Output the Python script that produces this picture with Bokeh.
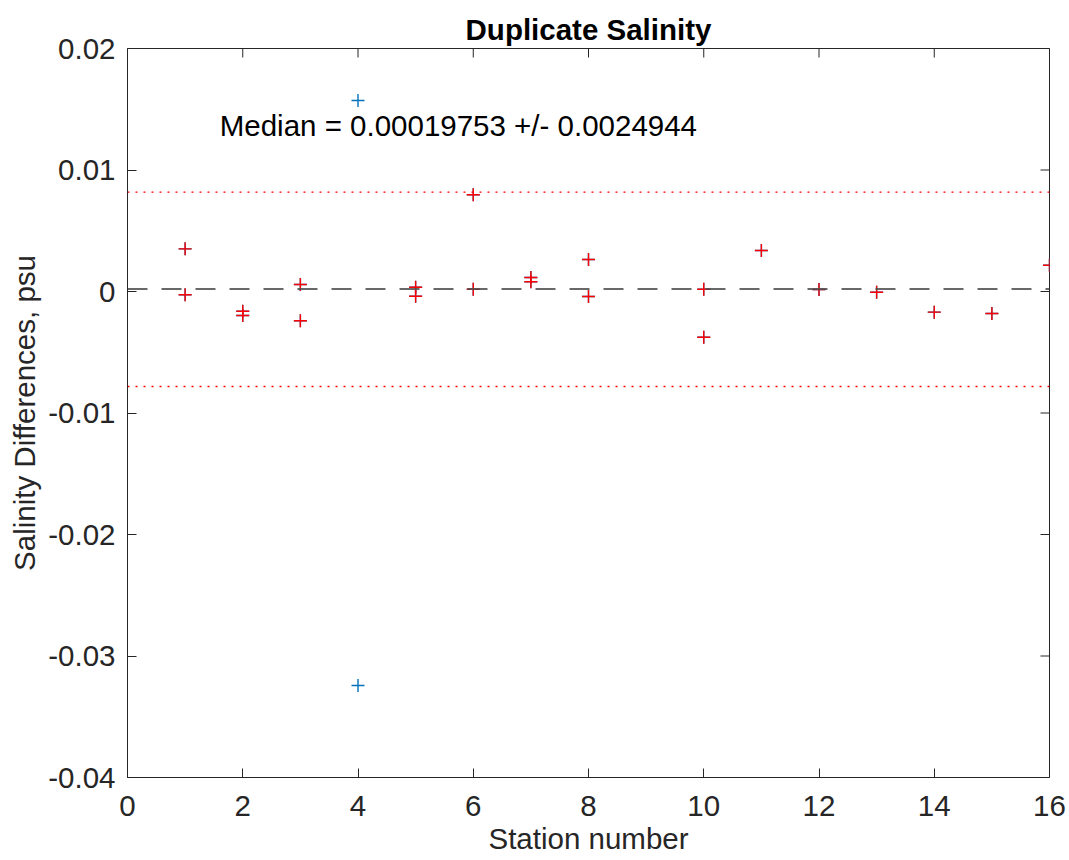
import math
from bokeh.plotting import figure
from bokeh.models import Range1d, FixedTicker, Span, CustomJSTickFormatter, ColumnDataSource
from bokeh.embed import file_html
from bokeh.resources import INLINE
from bokeh.core.properties import value

# ---- data ----
stations = [1, 1, 2, 2, 3, 3, 4, 4, 5, 5, 6, 6, 7, 7, 8, 8, 10, 10, 11, 12, 13, 14, 15, 16]
sal_diff = [0.00351, -0.00027, -0.00162, -0.00198, 0.00058, -0.00241, 0.01572, -0.03243,
            0.00035, -0.00039, 0.00796, 0.00019, 0.00115, 0.00080, 0.00263, -0.00041,
            0.00019, -0.00376, 0.00337, 0.00016, -0.00006, -0.00170, -0.00181, 0.00216]
median_val = 0.00019753
upper_limit = 0.00818
lower_limit = -0.00782
annot_x = [1.6]
annot_y = [0.0137]
annot_text = ["Median = 0.00019753 +/- 0.0024944"]
x_ticks = [0, 2, 4, 6, 8, 10, 12, 14, 16]
y_ticks = [-0.04, -0.03, -0.02, -0.01, 0, 0.01, 0.02]
x_lim = (0, 16)
y_lim = (-0.04, 0.02)

inside = [(s, d) for s, d in zip(stations, sal_diff) if lower_limit <= d <= upper_limit]
in_st = [a for a, b in inside]
in_d = [b for a, b in inside]

FONT = "Liberation Sans"
AX = "#262626"
FS = "29.5px"

p = figure(width=1069, height=860, output_backend="svg", toolbar_location=None,
           x_range=Range1d(*x_lim), y_range=Range1d(*y_lim),
           min_border_left=127, min_border_right=20, min_border_top=48, min_border_bottom=83,
           x_axis_label="Station number", y_axis_label="Salinity Differences, psu",
           title="Duplicate Salinity")
p.background_fill_color = "white"
p.border_fill_color = "white"
p.outline_line_color = AX
p.outline_line_width = 1
p.grid.visible = False

p.title.text_font = FONT
p.title.text_font_size = FS
p.title.text_font_style = "bold"
p.title.text_color = "black"
p.title.align = "center"
p.title.standoff = 6

fmt = CustomJSTickFormatter(code="return String(Math.round(tick*1000)/1000);")

def style(ax):
    ax.axis_line_color = None
    ax.major_tick_in = 9
    ax.major_tick_out = 0
    ax.minor_tick_line_color = None
    ax.major_tick_line_color = AX
    ax.major_tick_line_width = 1
    ax.major_label_text_font = FONT
    ax.major_label_text_font_size = FS
    ax.major_label_text_color = AX
    ax.axis_label_text_font = FONT
    ax.axis_label_text_font_size = FS
    ax.axis_label_text_font_style = "normal"
    ax.axis_label_text_color = AX

xa = p.xaxis[0]
ya = p.yaxis[0]
xa.ticker = FixedTicker(ticks=x_ticks)
ya.ticker = FixedTicker(ticks=y_ticks)
ya.formatter = fmt
style(xa)
style(ya)
xa.major_label_standoff = 18
xa.axis_label_standoff = 3
ya.major_label_standoff = 12
ya.axis_label_standoff = 4

# inward ticks on the top and right edges (box on), clipped to the frame
p.scatter(x=[x_lim[1]] * len(y_ticks), y=y_ticks, marker="dash", size=18,
          line_color=AX, line_width=1)
p.scatter(x=x_ticks, y=[y_lim[1]] * len(x_ticks), marker="dash", size=18, angle=math.pi / 2,
          line_color=AX, line_width=1)

# limit and median lines
p.add_layout(Span(location=upper_limit, dimension="width", line_color="red",
                  line_width=1.3, line_dash="2 6"))
p.add_layout(Span(location=lower_limit, dimension="width", line_color="red",
                  line_width=1.3, line_dash="2 6"))
p.add_layout(Span(location=median_val, dimension="width", line_color="#4d4d4d",
                  line_width=2, line_dash="20 14", line_alpha=0.85))

src_all = ColumnDataSource(dict(x=stations, y=sal_diff))
src_in = ColumnDataSource(dict(x=in_st, y=in_d))
p.scatter("x", "y", source=src_all, marker="cross", size=13, line_color="#0072BD", line_width=1.4)
p.scatter("x", "y", source=src_in, marker="cross", size=13, line_color="red", line_width=1.4)

p.text(x=annot_x, y=annot_y, text=annot_text, text_font=value(FONT), text_font_size=FS,
       text_color="black", text_align="left", text_baseline="middle")

open("out.html", "w").write(file_html(p, INLINE))
